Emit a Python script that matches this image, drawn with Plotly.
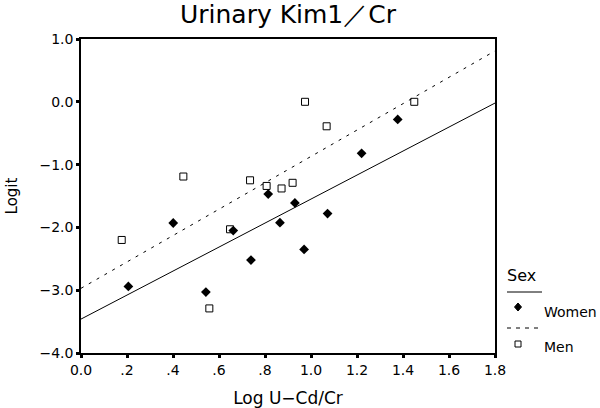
import plotly.graph_objects as go

# ---- data ----
women_x = [0.206, 0.401, 0.543, 0.662, 0.739, 0.814, 0.865, 0.930, 0.970, 1.072, 1.220, 1.377]
women_y = [-2.94, -1.93, -3.03, -2.05, -2.52, -1.47, -1.925, -1.61, -2.35, -1.78, -0.82, -0.28]
men_x = [0.177, 0.445, 0.558, 0.648, 0.735, 0.807, 0.872, 0.920, 0.974, 1.068, 1.449]
men_y = [-2.20, -1.19, -3.29, -2.03, -1.25, -1.34, -1.38, -1.29, 0.00, -0.39, 0.00]
fit_x = [0.0, 1.8]
women_fit = [-3.46, -0.02]
men_fit = [-2.97, 0.81]
x_tickvals = [0.0, 0.2, 0.4, 0.6, 0.8, 1.0, 1.2, 1.4, 1.6, 1.8]
x_ticktext = ["0.0", ".2", ".4", ".6", ".8", "1.0", "1.2", "1.4", "1.6", "1.8"]
y_tickvals = [1.0, 0.0, -1.0, -2.0, -3.0, -4.0]
y_ticktext = ["1.0", "0.0", "\u22121.0", "\u22122.0", "\u22123.0", "\u22124.0"]

FONT = "DejaVu Sans"

# plot area in page pixels
PL, PR, PT, PB = 81, 495, 39, 353

fig = go.Figure()
fig.add_trace(go.Scatter(x=fit_x, y=men_fit, mode="lines",
                         line=dict(color="black", width=1, dash="3px,6px"), showlegend=False))
fig.add_trace(go.Scatter(x=fit_x, y=women_fit, mode="lines",
                         line=dict(color="black", width=1), showlegend=False))
fig.add_trace(go.Scatter(x=men_x, y=men_y, mode="markers",
                         marker=dict(symbol="square-open", size=7, color="black", line=dict(width=1)),
                         showlegend=False))
fig.add_trace(go.Scatter(x=women_x, y=women_y, mode="markers",
                         marker=dict(symbol="diamond", size=7.5, color="black"),
                         showlegend=False))

fig.update_layout(
    width=600, height=408,
    margin=dict(l=PL, r=600 - PR, t=PT, b=408 - PB),
    paper_bgcolor="white", plot_bgcolor="white",
    font=dict(family=FONT, color="black", size=14),
    title=dict(text="Urinary Kim1\uff0fCr", xref="paper", x=0.5, xanchor="center",
               yref="container", y=1 - 14 / 408, yanchor="middle",
               font=dict(size=25, family=FONT)),
    showlegend=False,
)
fig.update_xaxes(range=[0, 1.8], tickvals=x_tickvals, ticktext=x_ticktext,
                 ticks="outside", ticklen=3, tickwidth=3, tickcolor="black",
                 showline=True, linecolor="black", linewidth=1.5, mirror=True,
                 showgrid=False, zeroline=False, automargin=False,
                 title=dict(text="Log U\u2212Cd/Cr", font=dict(size=17, family=FONT), standoff=18),
                 tickfont=dict(size=14))
fig.update_yaxes(range=[-4, 1], tickvals=y_tickvals, ticktext=y_ticktext,
                 ticks="outside", ticklen=3, tickwidth=3, tickcolor="black",
                 showline=True, linecolor="black", linewidth=1.5, mirror=True,
                 showgrid=False, zeroline=False, automargin=False,
                 title=dict(text="Logit", font=dict(size=15, family=FONT), standoff=18),
                 tickfont=dict(size=14))

# ---- custom legend (SPSS style), positions in page pixels ----
px2x = lambda p: (p - PL) / (PR - PL)
py2y = lambda p: (PB - p) / (PB - PT)
fig.add_annotation(x=px2x(505), y=py2y(275), xref="paper", yref="paper", text="Sex",
                   showarrow=False, xanchor="left", yanchor="middle", font=dict(size=16))
fig.add_shape(type="line", xref="paper", yref="paper", x0=px2x(507), x1=px2x(542),
              y0=py2y(292), y1=py2y(292), line=dict(color="black", width=1))
fig.add_shape(type="line", xref="paper", yref="paper", x0=px2x(507), x1=px2x(542),
              y0=py2y(328), y1=py2y(328), line=dict(color="black", width=1, dash="4px,5px"))
fig.add_shape(type="path", xref="paper", yref="paper", xsizemode="pixel", ysizemode="pixel",
              xanchor=px2x(518), yanchor=py2y(307),
              path="M 0 4 L 3.5 0 L 0 -4 L -3.5 0 Z", fillcolor="black", line=dict(color="black", width=1))
fig.add_shape(type="rect", xref="paper", yref="paper", xsizemode="pixel", ysizemode="pixel",
              xanchor=px2x(518), yanchor=py2y(344),
              x0=-3, x1=3, y0=-3, y1=3, line=dict(color="black", width=1))
fig.add_annotation(x=px2x(542), y=py2y(312), xref="paper", yref="paper", text="Women",
                   showarrow=False, xanchor="left", yanchor="middle", font=dict(size=14))
fig.add_annotation(x=px2x(542), y=py2y(347), xref="paper", yref="paper", text="Men",
                   showarrow=False, xanchor="left", yanchor="middle", font=dict(size=14))

fig.write_html("out.html", config={"displayModeBar": False},
               post_script="document.body.style.margin='0';")
